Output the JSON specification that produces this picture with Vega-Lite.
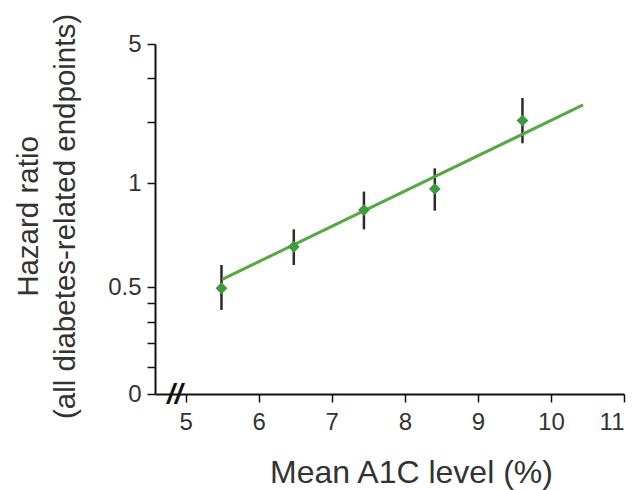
{
  "$schema": "https://vega.github.io/schema/vega-lite/v6.json",
  "autosize": "none",
  "width": 469,
  "height": 350,
  "padding": {"left": 155, "top": 44, "right": 14, "bottom": 96},
  "background": "white",
  "config": {
    "font": "Liberation Sans",
    "view": {"stroke": null},
    "axis": {
      "domainColor": "#111",
      "domainWidth": 2,
      "tickColor": "#111",
      "tickWidth": 1.5,
      "tickSize": 8,
      "grid": false,
      "labelFont": "Liberation Sans",
      "labelFontSize": 24,
      "labelColor": "#333",
      "titleFont": "Liberation Sans",
      "titleFontWeight": "normal",
      "titleColor": "#333"
    }
  },
  "datasets": {
    "points": [
      {"a1c": 5.49, "hr": 0.494, "lo": 0.393, "hi": 0.606},
      {"a1c": 6.48, "hr": 0.694, "lo": 0.606, "hi": 0.778},
      {"a1c": 7.44, "hr": 0.871, "lo": 0.778, "hi": 0.96},
      {"a1c": 8.41, "hr": 0.973, "lo": 0.868, "hi": 1.43},
      {"a1c": 9.61, "hr": 2.8, "lo": 2.15, "hi": 3.45}
    ],
    "fit": [
      {"a1c": 5.5, "hr": 0.537},
      {"a1c": 10.44, "hr": 3.25}
    ],
    "brk": [
      {"a1c": 4.85, "hr": 0, "t": "//"}
    ]
  },
  "encoding": {
    "x": {
      "field": "a1c",
      "type": "quantitative",
      "scale": {"domain": [4.58, 11], "nice": false, "zero": false},
      "axis": {
        "values": [5, 6, 7, 8, 9, 10, 11],
        "format": "d",
        "labelPadding": 8,
        "title": "Mean A1C level (%)",
        "titleFontSize": 32,
        "titleX": 256,
        "titleY": 88,
        "titleBaseline": "alphabetic",
        "titleAlign": "center"
      }
    },
    "y": {
      "field": "hr",
      "type": "quantitative",
      "scale": {"type": "linear", "domain": [0, 0.5, 1, 5], "range": [350, 243, 139.3, 0], "nice": false, "zero": false},
      "axis": {
        "values": [0, 0.128, 0.24, 0.338, 0.425, 0.5, 1, 2.77, 4.02, 5],
        "labelExpr": "datum.value == 5 ? '5' : datum.value == 1 ? '1' : datum.value == 0.5 ? '0.5' : datum.value == 0 ? '0' : ''",
        "labelPadding": 6,
        "title": ["Hazard ratio", "(all diabetes-related endpoints)"],
        "titleFontSize": 29.5,
        "titleLineHeight": 37,
        "titleX": -118,
        "titleY": 172,
        "titleAngle": 270,
        "titleBaseline": "alphabetic",
        "titleAlign": "center"
      }
    }
  },
  "layer": [
    {
      "data": {"name": "points"},
      "mark": {"type": "rule", "color": "#2b2b2b", "strokeWidth": 2.5},
      "encoding": {"y": {"field": "lo", "type": "quantitative"}, "y2": {"field": "hi"}}
    },
    {
      "data": {"name": "fit"},
      "mark": {"type": "line", "color": "#56a844", "strokeWidth": 3},
      "encoding": {}
    },
    {
      "data": {"name": "points"},
      "mark": {"type": "point", "shape": "diamond", "filled": true, "color": "#3f9a3c", "size": 140, "opacity": 1},
      "encoding": {}
    },
    {
      "data": {"name": "brk"},
      "mark": {"type": "text", "fontSize": 28, "fontWeight": "bold", "fontStyle": "italic", "color": "#111", "dy": 1},
      "encoding": {"text": {"field": "t"}}
    }
  ]
}
